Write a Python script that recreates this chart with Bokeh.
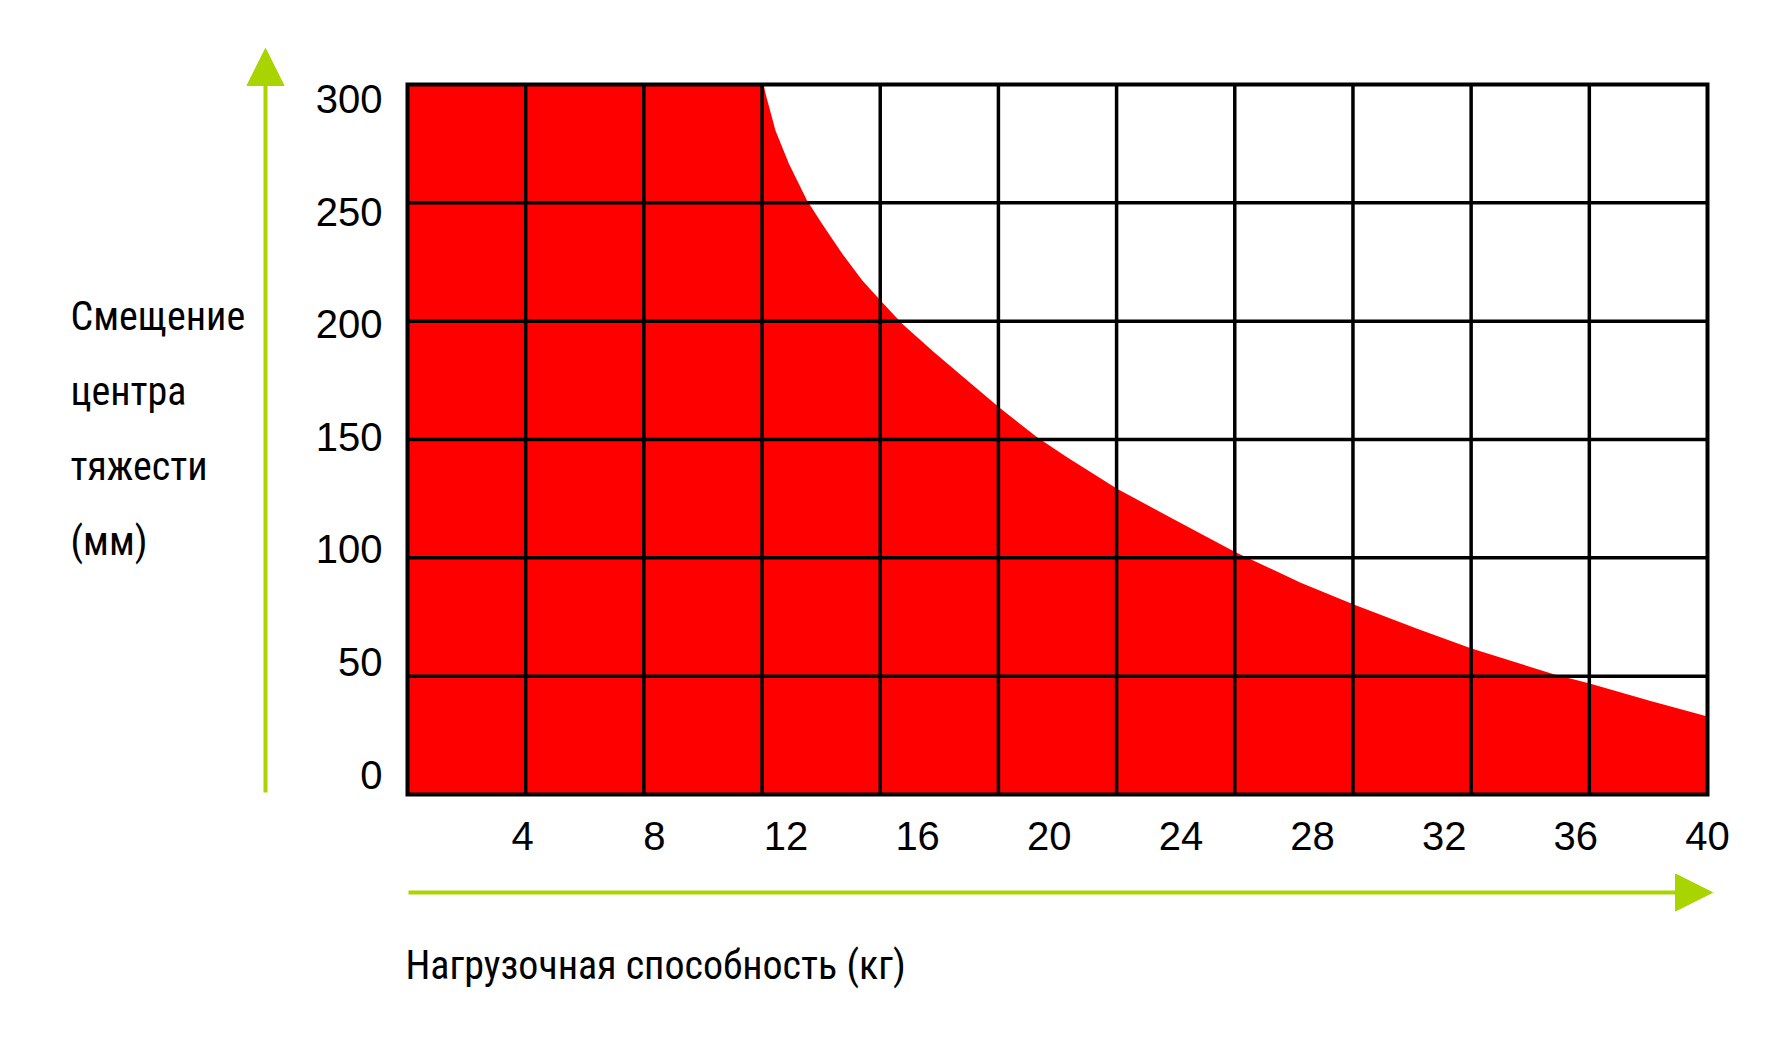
from bokeh.plotting import figure
from bokeh.models import Range1d, LinearAxis, FixedTicker, Label, Arrow, NormalHead
from bokeh.embed import file_html
from bokeh.resources import INLINE

# ---- data ----
LOAD_KG = [0.5, 11.32, 11.38, 11.68, 12.09, 12.64, 13.10, 13.71, 14.32, 14.90, 15.53,
           16.49, 17.51, 18.49, 19.63, 20.54, 22.06, 23.58, 25.66, 27.64, 29.25,
           31.18, 32.83, 35.33, 36.42, 38.27, 40.0]
OFFSET_MM = [300, 300, 296.1, 280.6, 266.5, 251.0, 241.1, 228.5, 217.2, 208.3, 198.9,
             187.0, 174.9, 163.4, 151.0, 142.5, 129.2, 117.8, 102.4, 89.5, 80.3,
             70.0, 61.7, 50.8, 46.9, 39.5, 33.0]
X_TICKS = [4, 8, 12, 16, 20, 24, 28, 32, 36, 40]
Y_TICKS = [0, 50, 100, 150, 200, 250, 300]
Y_TITLE = ["Смещение", "центра", "тяжести", "(мм)"]
X_TITLE = "Нагрузочная способность (кг)"

# ---- layout / style ----
W, H = 1766, 1024
FL, FR, FT, FB = 407, 1707, 84, 794          # chart box edges in canvas pixels
X0, X1 = 0.5, 40.0                            # kg at the box's left / right edge
Y0, Y1 = 0, 300                               # mm at the box's bottom / top edge
LAB_ZERO_PX, LAB_PX_PER_MM = 774, 2.252       # where the y tick labels sit
GREEN = "#aad400"
RED = "#ff0000"
TICK_FONT = "Liberation Sans"
TITLE_FONT = "Roboto Condensed"
TITLE_SIZE = "40px"
KX = (X1 - X0) / (FR - FL)
KY = (Y1 - Y0) / (FB - FT)


def px_x(px):
    return X0 + (px - FL) * KX


def px_y(py):
    return Y0 + (FB - py) * KY


p = figure(width=W, height=H,
           x_range=Range1d(px_x(0), px_x(W)), y_range=Range1d(px_y(H), px_y(0)),
           output_backend="svg", toolbar_location=None,
           x_axis_location=None, y_axis_location=None,
           min_border=0, min_border_left=0, min_border_right=0,
           min_border_top=0, min_border_bottom=0,
           background_fill_color="white", border_fill_color="white")
p.grid.visible = False
p.outline_line_color = None

# red area under the curve
p.varea(x=LOAD_KG, y1=0, y2=OFFSET_MM, fill_color=RED, fill_alpha=1.0)

# grid (11 x 6 cells) and box
cols, rows = 11, 6
gx = [X0 + i * (X1 - X0) / cols for i in range(1, cols)]
gy = [Y0 + i * (Y1 - Y0) / rows for i in range(1, rows)]
p.segment(x0=gx, y0=Y0, x1=gx, y1=Y1, line_color="black", line_width=3.5)
p.segment(x0=X0, y0=gy, x1=X1, y1=gy, line_color="black", line_width=3.5)
p.quad(left=X0, right=X1, bottom=Y0, top=Y1, fill_color=None,
       line_color="black", line_width=4, line_join="miter")

# x axis, fixed along the bottom of the box
xa = LinearAxis(fixed_location=Y0, ticker=FixedTicker(ticks=X_TICKS))
xa.axis_line_color = None
xa.major_tick_line_color = None
xa.minor_tick_line_color = None
xa.major_tick_out = 0
xa.major_tick_in = 0
xa.major_label_standoff = 27
xa.major_label_text_font = TICK_FONT
xa.major_label_text_font_size = "40px"
xa.major_label_text_color = "black"
p.add_layout(xa, "below")

# y axis: its labels sit on a slightly tighter scale than the grid, as in the picture
p.extra_y_ranges = {"lab": Range1d((LAB_ZERO_PX - H) / LAB_PX_PER_MM,
                                   LAB_ZERO_PX / LAB_PX_PER_MM)}
ya = LinearAxis(y_range_name="lab", fixed_location=X0, ticker=FixedTicker(ticks=Y_TICKS))
ya.axis_line_color = None
ya.major_tick_line_color = None
ya.minor_tick_line_color = None
ya.major_tick_out = 0
ya.major_tick_in = 0
ya.major_label_standoff = 25
ya.major_label_text_font = TICK_FONT
ya.major_label_text_font_size = "40px"
ya.major_label_text_color = "black"
p.add_layout(ya, "left")

# green arrows
p.add_layout(Arrow(end=NormalHead(size=37, fill_color=GREEN, line_color=GREEN),
                   x_start=px_x(265), y_start=px_y(792), x_end=px_x(265), y_end=px_y(48),
                   line_color=GREEN, line_width=4))
p.add_layout(Arrow(end=NormalHead(size=37, fill_color=GREEN, line_color=GREEN),
                   x_start=px_x(408), y_start=px_y(892), x_end=px_x(1712), y_end=px_y(892),
                   line_color=GREEN, line_width=4))

# titles
for line, base in zip(Y_TITLE, [316, 391, 466, 541]):
    p.add_layout(Label(x=px_x(70), y=px_y(base), text=line, text_font=TITLE_FONT,
                       text_font_size=TITLE_SIZE, text_baseline="alphabetic",
                       text_align="left", text_color="black"))
p.add_layout(Label(x=px_x(405), y=px_y(965), text=X_TITLE, text_font=TITLE_FONT,
                   text_font_size=TITLE_SIZE, text_baseline="alphabetic",
                   text_align="left", text_color="black"))

open("out.html", "w").write(file_html(p, INLINE))
